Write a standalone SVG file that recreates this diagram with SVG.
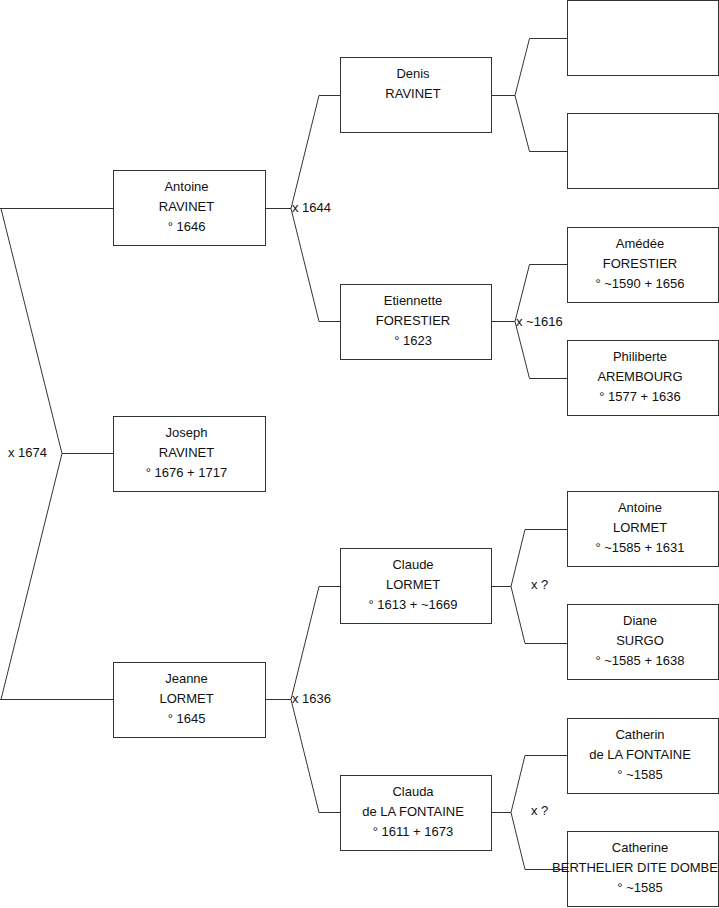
<svg xmlns="http://www.w3.org/2000/svg" width="719" height="908" viewBox="0 0 719 908">
<style>
.box{fill:#fff;stroke:#333;stroke-width:1}
.con{fill:none;stroke:#333;stroke-width:1}
text{font-family:"Liberation Sans",Arial,sans-serif;font-size:13px;fill:#111}
.c{text-anchor:middle}
</style>
<rect width="719" height="908" fill="#fff"/>
<g id="connectors" class="con">
<path d="M0,208.5 H113.5 M1,208.5 L62,453.5 H113.5 M62,453.5 L1,699.5 M0,699.5 H113.5"/>
<path d="M265.5,208.5 H291 L319,95.5 H340.5 M291,208.5 L319,321.5 H340.5"/>
<path d="M265.5,699.5 H291 L319,586.5 H340.5 M291,699.5 L319,812.5 H340.5"/>
<path d="M491.5,95.5 H515 L529.5,38.5 H567.5 M515,95.5 L529.5,151.5 H567.5"/>
<path d="M491.5,321.5 H515 L529.5,264.5 H567.5 M515,321.5 L529.5,378.5 H567.5"/>
<path d="M491.5,586.5 H511 L525,529.5 H567.5 M511,586.5 L525,643.5 H567.5"/>
<path d="M491.5,812.5 H511 L525,755.5 H567.5 M511,812.5 L525,869.5 H567.5"/>
</g>
<g id="labels">
<text x="8" y="457">x 1674</text>
<text x="292" y="212">x 1644</text>
<text x="292" y="703">x 1636</text>
<text x="516" y="326">x ~1616</text>
<text x="531" y="589">x ?</text>
<text x="531" y="815">x ?</text>
</g>
<g id="antoine-ravinet">
<rect class="box" x="113.5" y="170.5" width="152" height="75"/>
<text class="c" x="186.5" y="191">Antoine</text>
<text class="c" x="186.5" y="211">RAVINET</text>
<text class="c" x="186.5" y="231">° 1646</text>
</g>
<g id="joseph-ravinet">
<rect class="box" x="113.5" y="416.5" width="152" height="75"/>
<text class="c" x="186.5" y="437">Joseph</text>
<text class="c" x="186.5" y="457">RAVINET</text>
<text class="c" x="186.5" y="477">° 1676 + 1717</text>
</g>
<g id="jeanne-lormet">
<rect class="box" x="113.5" y="662.5" width="152" height="75"/>
<text class="c" x="186.5" y="683">Jeanne</text>
<text class="c" x="186.5" y="703">LORMET</text>
<text class="c" x="186.5" y="723">° 1645</text>
</g>
<g id="denis-ravinet">
<rect class="box" x="340.5" y="57.5" width="151" height="75"/>
<text class="c" x="413" y="78">Denis</text>
<text class="c" x="413" y="98">RAVINET</text>
</g>
<g id="etiennette-forestier">
<rect class="box" x="340.5" y="284.5" width="151" height="75"/>
<text class="c" x="413" y="305">Etiennette</text>
<text class="c" x="413" y="325">FORESTIER</text>
<text class="c" x="413" y="345">° 1623</text>
</g>
<g id="claude-lormet">
<rect class="box" x="340.5" y="548.5" width="151" height="75"/>
<text class="c" x="413" y="569">Claude</text>
<text class="c" x="413" y="589">LORMET</text>
<text class="c" x="413" y="609">° 1613 + ~1669</text>
</g>
<g id="clauda-de-la-fontaine">
<rect class="box" x="340.5" y="775.5" width="151" height="75"/>
<text class="c" x="413" y="796">Clauda</text>
<text class="c" x="413" y="816">de LA FONTAINE</text>
<text class="c" x="413" y="836">° 1611 + 1673</text>
</g>
<g id="unknown-1">
<rect class="box" x="567.5" y="0.5" width="151" height="75"/>
</g>
<g id="unknown-2">
<rect class="box" x="567.5" y="113.5" width="151" height="75"/>
</g>
<g id="amedee-forestier">
<rect class="box" x="567.5" y="227.5" width="151" height="75"/>
<text class="c" x="640" y="248">Amédée</text>
<text class="c" x="640" y="268">FORESTIER</text>
<text class="c" x="640" y="288">° ~1590 + 1656</text>
</g>
<g id="philiberte-arembourg">
<rect class="box" x="567.5" y="340.5" width="151" height="75"/>
<text class="c" x="640" y="361">Philiberte</text>
<text class="c" x="640" y="381">AREMBOURG</text>
<text class="c" x="640" y="401">° 1577 + 1636</text>
</g>
<g id="antoine-lormet">
<rect class="box" x="567.5" y="491.5" width="151" height="75"/>
<text class="c" x="640" y="512">Antoine</text>
<text class="c" x="640" y="532">LORMET</text>
<text class="c" x="640" y="552">° ~1585 + 1631</text>
</g>
<g id="diane-surgo">
<rect class="box" x="567.5" y="604.5" width="151" height="75"/>
<text class="c" x="640" y="625">Diane</text>
<text class="c" x="640" y="645">SURGO</text>
<text class="c" x="640" y="665">° ~1585 + 1638</text>
</g>
<g id="catherin-de-la-fontaine">
<rect class="box" x="567.5" y="718.5" width="151" height="75"/>
<text class="c" x="640" y="739">Catherin</text>
<text class="c" x="640" y="759">de LA FONTAINE</text>
<text class="c" x="640" y="779">° ~1585</text>
</g>
<g id="catherine-berthelier">
<rect class="box" x="567.5" y="831.5" width="151" height="75"/>
<text class="c" x="640" y="852">Catherine</text>
<text class="c" x="635" y="872">BERTHELIER DITE DOMBE</text>
<text class="c" x="640" y="892">° ~1585</text>
</g>
</svg>
